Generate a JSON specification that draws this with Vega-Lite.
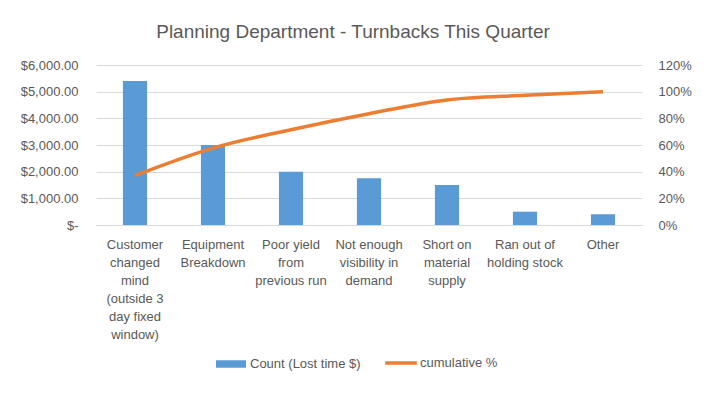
{
  "$schema": "https://vega.github.io/schema/vega-lite/v6.json",
  "width": 546,
  "height": 160,
  "autosize": "none",
  "padding": {"left": 96, "top": 65, "right": 67, "bottom": 174},
  "background": "white",
  "title": {"text": "Planning Department - Turnbacks This Quarter", "fontSize": 19, "font": "Liberation Sans", "fontWeight": "normal", "color": "#595959", "offset": 17, "dx": -16},
  "data": {"values": [
    {"cause": "Customer changed mind (outside 3 day fixed window)", "count": 5400, "cumulative": 0.371},
    {"cause": "Equipment Breakdown", "count": 3000, "cumulative": 0.577},
    {"cause": "Poor yield from previous run", "count": 2000, "cumulative": 0.715},
    {"cause": "Not enough visibility in demand", "count": 1750, "cumulative": 0.835},
    {"cause": "Short on material supply", "count": 1500, "cumulative": 0.938},
    {"cause": "Ran out of holding stock", "count": 500, "cumulative": 0.973},
    {"cause": "Other", "count": 400, "cumulative": 1.0}
  ]},
  "encoding": {
    "x": {"field": "cause", "type": "nominal", "sort": null, "title": null,
      "scale": {"paddingInner": 0.69, "paddingOuter": 0.345},
      "axis": {"labelAngle": 0, "ticks": false, "domainColor": "#D9D9D9", "labelPadding": 13, "labelLineHeight": 18, "labelLimit": 0,
        "labelExpr": "datum.value == 'Customer changed mind (outside 3 day fixed window)' ? ['Customer','changed','mind','(outside 3','day fixed','window)'] : datum.value == 'Equipment Breakdown' ? ['Equipment','Breakdown'] : datum.value == 'Poor yield from previous run' ? ['Poor yield','from','previous run'] : datum.value == 'Not enough visibility in demand' ? ['Not enough','visibility in','demand'] : datum.value == 'Short on material supply' ? ['Short on','material','supply'] : datum.value == 'Ran out of holding stock' ? ['Ran out of','holding stock'] : datum.value"}}
  },
  "layer": [
    {
      "mark": {"type": "bar", "color": "#5B9BD5"},
      "encoding": {
        "y": {"field": "count", "type": "quantitative", "title": null,
          "scale": {"domain": [0, 6000]},
          "axis": {"values": [0, 1000, 2000, 3000, 4000, 5000, 6000], "domain": false, "ticks": false, "gridColor": "#D9D9D9", "labelPadding": 18,
            "labelExpr": "datum.value == 0 ? '$-' : format(datum.value, '$,.2f')"}},
        "color": {"datum": "Count (Lost time $)", "type": "nominal", "scale": {"range": ["#5B9BD5"]},
          "legend": {"title": null, "orient": "none", "legendX": 120, "legendY": 284, "symbolType": "M-1,-0.25H1V0.25H-1Z", "symbolSize": 900, "symbolStrokeWidth": 0, "labelOffset": 4}}
      }
    },
    {
      "mark": {"type": "line", "color": "#ED7D31", "strokeWidth": 3.5, "interpolate": "monotone"},
      "encoding": {
        "y": {"field": "cumulative", "type": "quantitative", "title": null,
          "scale": {"domain": [0, 1.2]},
          "axis": {"orient": "right", "values": [0, 0.2, 0.4, 0.6, 0.8, 1.0, 1.2], "format": ".0%", "domain": false, "ticks": false, "grid": false, "labelPadding": 16}},
        "stroke": {"datum": "cumulative %", "type": "nominal", "scale": {"range": ["#ED7D31"]},
          "legend": {"title": null, "orient": "none", "legendX": 287, "legendY": 280, "symbolType": "stroke", "symbolSize": 1000, "symbolStrokeWidth": 3.5, "labelOffset": 1}}
      }
    }
  ],
  "resolve": {"scale": {"y": "independent", "color": "independent", "stroke": "independent"}},
  "config": {
    "view": {"stroke": null},
    "font": "Liberation Sans",
    "axis": {"labelFont": "Liberation Sans", "labelFontSize": 13, "labelColor": "#595959"},
    "legend": {"labelFont": "Liberation Sans", "labelFontSize": 13, "labelColor": "#595959"}
  }
}
